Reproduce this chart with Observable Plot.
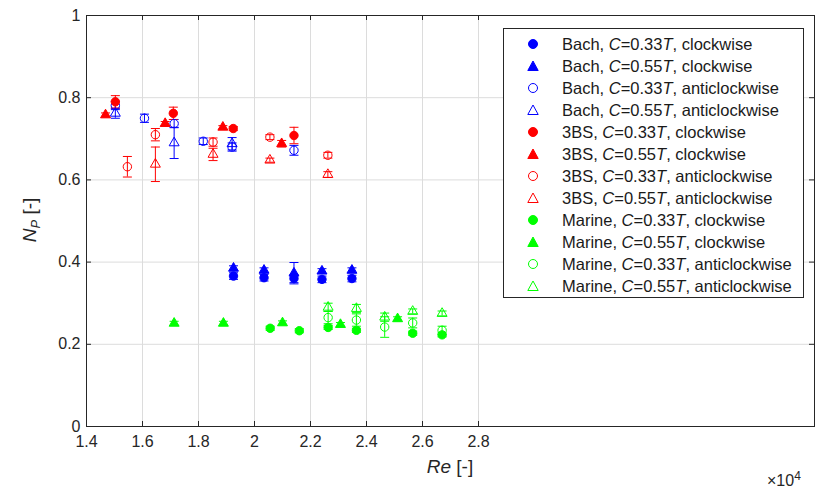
<!DOCTYPE html>
<html>
<head>
<meta charset="utf-8">
<script src="https://cdn.jsdelivr.net/npm/d3@7"></script>
<script src="https://cdn.jsdelivr.net/npm/@observablehq/plot@0.6"></script>
<style>
  body { margin: 0; background: #fff; }
  #wrap { position: relative; width: 815px; height: 496px; font-family: "Liberation Sans", Arial, sans-serif; color: #262626; }
  #legend { position: absolute; left: 503px; top: 28px; width: 301px; height: 270px; border: 1px solid #262626; background: #fff; box-sizing: border-box; }
  .row { position: absolute; left: 0; height: 22px; display: flex; align-items: center; font-size: 16.5px; white-space: nowrap; color: #1a1a1a; }
  .row svg { margin-left: 23px; margin-right: 23px; }
  #xlab { position: absolute; left: 0; width: 900px; top: 456px; text-align: center; font-size: 19px; }
  #xexp { position: absolute; left: 767px; top: 469px; font-size: 16px; }
  #xexp sup { font-size: 12px; }
  #ylab { position: absolute; left: 31px; top: 220px; transform: translate(-50%, -50%) rotate(-90deg); font-size: 19px; white-space: nowrap; }
</style>
</head>
<body>
<div id="wrap"></div>
<script>
// ---------- data ----------
const seriesNames = [
  "Bach, C=0.33T, clockwise", "Bach, C=0.55T, clockwise",
  "Bach, C=0.33T, anticlockwise", "Bach, C=0.55T, anticlockwise",
  "3BS, C=0.33T, clockwise", "3BS, C=0.55T, clockwise",
  "3BS, C=0.33T, anticlockwise", "3BS, C=0.55T, anticlockwise",
  "Marine, C=0.33T, clockwise", "Marine, C=0.55T, clockwise",
  "Marine, C=0.33T, anticlockwise", "Marine, C=0.55T, anticlockwise"
];
const seriesColors = ["#0000ff","#0000ff","#0000ff","#0000ff","#ff0000","#ff0000","#ff0000","#ff0000","#00ff00","#00ff00","#00ff00","#00ff00"];
const seriesShapes = ["circle","triangle","circle","triangle","circle","triangle","circle","triangle","circle","triangle","circle","triangle"];
const seriesFilled = [true,true,false,false,true,true,false,false,true,true,false,false];

const bachCw033Re = [1.925, 2.034, 2.141, 2.241, 2.348];
const bachCw033Np = [0.366, 0.362, 0.360, 0.358, 0.360];
const bachCw033Err = [0.008, 0.008, 0.010, 0.008, 0.008];
const bachCw055Re = [1.925, 2.034, 2.141, 2.241, 2.348];
const bachCw055Np = [0.385, 0.380, 0.373, 0.378, 0.380];
const bachCw055Err = [0.006, 0.006, 0.026, 0.006, 0.006];
const bachAc033Re = [1.503, 1.607, 1.713, 1.817, 1.920, 2.141];
const bachAc033Np = [0.781, 0.750, 0.737, 0.694, 0.680, 0.672];
const bachAc033Err = [0.010, 0.010, 0.010, 0.008, 0.010, 0.012];
const bachAc055Re = [1.503, 1.713, 1.920];
const bachAc055Np = [0.762, 0.690, 0.688];
const bachAc055Err = [0.012, 0.038, 0.015];

const bsCw033Re = [1.503, 1.710, 1.924, 2.141];
const bsCw033Np = [0.790, 0.762, 0.725, 0.708];
const bsCw033Err = [0.015, 0.015, 0.005, 0.020];
const bsCw055Re = [1.468, 1.681, 1.887, 2.097];
const bsCw055Np = [0.758, 0.737, 0.728, 0.688];
const bsCw055Err = [0.005, 0.005, 0.004, 0.008];
const bsAc033Re = [1.546, 1.646, 1.852, 2.055, 2.262];
const bsAc033Np = [0.632, 0.710, 0.692, 0.704, 0.660];
const bsAc033Err = [0.025, 0.015, 0.010, 0.006, 0.007];
const bsAc055Re = [1.646, 1.852, 2.055, 2.262];
const bsAc055Np = [0.638, 0.662, 0.648, 0.613];
const bsAc055Err = [0.042, 0.015, 0.005, 0.007];

const marCw033Re = [2.056, 2.160, 2.263, 2.364, 2.565, 2.670];
const marCw033Np = [0.239, 0.233, 0.241, 0.234, 0.227, 0.223];
const marCw033Err = [0.005, 0.005, 0.005, 0.005, 0.005, 0.005];
const marCw055Re = [1.713, 1.889, 2.100, 2.307, 2.511];
const marCw055Np = [0.251, 0.251, 0.252, 0.248, 0.262];
const marCw055Err = [0.005, 0.005, 0.005, 0.005, 0.005];
const marAc033Re = [2.263, 2.364, 2.465, 2.565, 2.670];
const marAc033Np = [0.265, 0.259, 0.242, 0.252, 0.234];
const marAc033Err = [0.015, 0.015, 0.025, 0.012, 0.010];
const marAc055Re = [2.263, 2.364, 2.465, 2.565, 2.670];
const marAc055Np = [0.290, 0.287, 0.266, 0.280, 0.275];
const marAc055Err = [0.010, 0.010, 0.010, 0.006, 0.006];

const xTicks = [1.4, 1.6, 1.8, 2.0, 2.2, 2.4, 2.6, 2.8];
const yTicks = [0, 0.2, 0.4, 0.6, 0.8, 1];

// ---------- build table ----------
const seriesData = [
  [bachCw033Re, bachCw033Np, bachCw033Err], [bachCw055Re, bachCw055Np, bachCw055Err],
  [bachAc033Re, bachAc033Np, bachAc033Err], [bachAc055Re, bachAc055Np, bachAc055Err],
  [bsCw033Re, bsCw033Np, bsCw033Err], [bsCw055Re, bsCw055Np, bsCw055Err],
  [bsAc033Re, bsAc033Np, bsAc033Err], [bsAc055Re, bsAc055Np, bsAc055Err],
  [marCw033Re, marCw033Np, marCw033Err], [marCw055Re, marCw055Np, marCw055Err],
  [marAc033Re, marAc033Np, marAc033Err], [marAc055Re, marAc055Np, marAc055Err]
];
const rows = [];
seriesData.forEach(([re, np, err], si) => {
  re.forEach((r, i) => rows.push({ si, re: r, np: np[i], err: err[i] }));
});

const capSymbol = { draw(ctx, size) { const w = 4.5; ctx.moveTo(-w, 0); ctx.lineTo(w, 0); } };

const W = 815, H = 496, mL = 86, mR = 1, mT = 15, mB = 70;
const fw = W - mL - mR, fh = H - mT - mB;
const axisColor = "#262626";

const errMarks = [];
const dotMarks = [];
for (let si = 0; si < seriesNames.length; si++) {
  const d = rows.filter(r => r.si === si);
  const c = seriesColors[si];
  errMarks.push(
    Plot.ruleX(d, { x: "re", y1: r => r.np - r.err, y2: r => r.np + r.err, stroke: c, strokeWidth: 1 }),
    Plot.dot(d, { x: "re", y: r => r.np - r.err, symbol: capSymbol, stroke: c, strokeWidth: 1, r: 3 }),
    Plot.dot(d, { x: "re", y: r => r.np + r.err, symbol: capSymbol, stroke: c, strokeWidth: 1, r: 3 })
  );
  const isTri = seriesShapes[si] === "triangle";
  dotMarks.push(
    Plot.dot(d, { x: "re", y: "np", symbol: seriesShapes[si], r: isTri ? 3.7 : 4.2,
      fill: seriesFilled[si] ? c : "none", stroke: c, strokeWidth: 1 })
  );
}

const chart = Plot.plot({
  width: W, height: H,
  marginLeft: mL, marginRight: mR, marginTop: mT, marginBottom: mB,
  style: { fontFamily: '"Liberation Sans", Arial, sans-serif', fontSize: "16px", color: axisColor, background: "#fff" },
  x: { domain: [1.4, 4.0] },
  y: { domain: [0, 1] },
  marks: [
    Plot.gridX(xTicks.slice(1), { stroke: "#dcdcdc", strokeOpacity: 1, strokeWidth: 1 }),
    Plot.gridY(yTicks.slice(1, -1), { stroke: "#dcdcdc", strokeOpacity: 1, strokeWidth: 1 }),
    ...errMarks,
    ...dotMarks,
    Plot.frame({ stroke: axisColor, strokeWidth: 1 }),
    Plot.tickX(xTicks, { x: d => d, insetTop: fh - 5, stroke: axisColor }),
    Plot.tickX(xTicks, { x: d => d, insetBottom: fh - 5, stroke: axisColor }),
    Plot.tickY(yTicks, { y: d => d, insetRight: fw - 5, stroke: axisColor }),
    Plot.tickY(yTicks, { y: d => d, insetLeft: fw - 5, stroke: axisColor }),
    Plot.axisX(xTicks, { tickSize: 0, tickPadding: 9, label: null, fill: axisColor, fontSize: 16,
      tickFormat: d => String(+d.toFixed(1)) }),
    Plot.axisY(yTicks, { tickSize: 0, tickPadding: 6, label: null, fill: axisColor, fontSize: 16,
      tickFormat: d => String(+d.toFixed(1)) })
  ]
});

const wrap = document.getElementById("wrap");
wrap.appendChild(chart);

// axis labels
const xl = document.createElement("div"); xl.id = "xlab";
xl.innerHTML = "<i>Re</i> [-]";
xl.style.left = (mL + fw / 2 - 450) + "px";
wrap.appendChild(xl);
const xe = document.createElement("div"); xe.id = "xexp";
xe.innerHTML = "×10<sup>4</sup>";
wrap.appendChild(xe);
const yl = document.createElement("div"); yl.id = "ylab";
yl.innerHTML = "<i>N<sub style='font-size:13px'>P</sub></i> [-]";
wrap.appendChild(yl);

// legend
const lg = document.createElement("div"); lg.id = "legend";
seriesNames.forEach((name, i) => {
  const row = document.createElement("div"); row.className = "row";
  row.style.top = (4 + i * 22) + "px";
  const c = seriesColors[i];
  const shape = seriesShapes[i] === "circle"
    ? `<circle cx="6" cy="6" r="4.5" fill="${seriesFilled[i] ? c : "none"}" stroke="${c}" stroke-width="1"/>`
    : `<path d="M6,1 L11.2,10.5 L0.8,10.5 Z" fill="${seriesFilled[i] ? c : "none"}" stroke="${c}" stroke-width="1"/>`;
  const html = name.replace(/C=/, "<i>C</i>=").replace(/(0\.\d\d)T/, "$1<i>T</i>");
  row.innerHTML = `<svg width="12" height="12">${shape}</svg><span>${html}</span>`;
  lg.appendChild(row);
});
wrap.appendChild(lg);
</script>
</body>
</html>
